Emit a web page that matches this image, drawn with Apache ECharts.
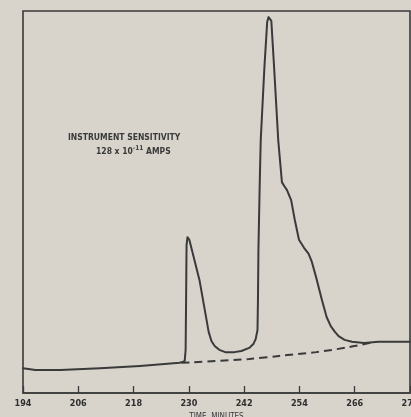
<!DOCTYPE html>
<html>
<head>
<meta charset="utf-8">
<script src="https://cdn.jsdelivr.net/npm/echarts@6/dist/echarts.min.js"></script>
<style>
  html, body { margin: 0; padding: 0; background: #d8d4cc; }
  #chart { width: 411px; height: 417px; }
</style>
</head>
<body>
<div id="chart"></div>
<script>
// Detector trace (time in minutes, signal in relative units of full scale)
const traceTime = [194.0, 196.7, 202.1, 210.7, 219.4, 228.0, 228.6, 229.1, 229.3, 229.4,
  229.5, 229.7, 230.1, 232.3, 234.3, 234.9, 235.6, 236.6, 237.9, 239.9,
  241.4, 243.1, 244.0, 244.5, 244.9, 245.0, 245.1, 245.4, 245.6, 246.4,
  247.0, 247.3, 247.6, 247.9, 248.5, 249.4, 250.2, 250.7, 251.3, 252.2,
  253.0, 253.9, 255.0, 256.0, 256.7, 257.6, 258.9, 259.9, 260.8, 261.7,
  262.5, 263.8, 265.4, 268.0, 271.2, 278.0];
const traceSignal = [6.5, 6.0, 6.0, 6.5, 7.1, 7.9, 8.1, 8.4, 11.3, 24.3,
  38.7, 40.8, 40.1, 29.6, 16.0, 13.6, 12.3, 11.3, 10.7, 10.7,
  11.0, 11.8, 12.8, 14.1, 16.5, 24.3, 37.4, 55.8, 66.2, 85.3,
  97.1, 98.4, 98.7, 97.4, 85.3, 66.2, 55.2, 54.2, 53.1, 50.5,
  45.3, 40.1, 38.0, 36.4, 34.3, 30.4, 24.3, 19.9, 17.5, 16.0,
  14.9, 13.9, 13.4, 13.1, 13.4, 13.4];

// Drifting baseline drawn under the peaks
const baseTime = [228.4, 243.1, 249.6, 257.6, 264.7, 270.5];
const baseSignal = [7.9, 8.9, 9.7, 10.7, 12.0, 13.4];

// Time axis ticks
const tickMinutes = [194, 206, 218, 230, 242, 254, 266, 278];

const pairs = (xs, ys) => xs.map((x, i) => [x, ys[i]]);

const ink = '#3a3a3a';
const labelFont = '"DejaVu Sans Condensed", "Liberation Sans Narrow", "Liberation Sans", sans-serif';

const chart = echarts.init(document.getElementById('chart'), null, { renderer: 'canvas' });
chart.setOption({
  backgroundColor: '#d8d4cc',
  animation: false,
  grid: {
    left: 23, right: 1, top: 11, bottom: 24,
    containLabel: false,
    outerBoundsMode: 'none',
    show: true, borderColor: ink, borderWidth: 1.6, backgroundColor: 'transparent'
  },
  xAxis: {
    type: 'value',
    min: tickMinutes[0],
    max: tickMinutes[tickMinutes.length - 1],
    name: 'TIME, MINUTES',
    nameLocation: 'middle',
    nameGap: 15,
    nameTextStyle: { color: '#3a3a3a', fontSize: 8, fontFamily: labelFont },
    splitLine: { show: false },
    axisLine: { show: true, lineStyle: { color: ink, width: 1.6 } },
    axisTick: {
      show: true, inside: true, length: 7,
      customValues: tickMinutes,
      lineStyle: { color: ink, width: 1.3 }
    },
    axisLabel: {
      show: true, margin: 6,
      customValues: tickMinutes,
      color: '#2e2e2e', fontSize: 9, fontWeight: 'bold', fontFamily: labelFont,
      showMinLabel: true, showMaxLabel: true
    }
  },
  yAxis: {
    type: 'value', min: 0, max: 100,
    show: false,
    splitLine: { show: false }
  },
  graphic: [
    {
      type: 'text', left: 68, top: 133,
      style: {
        text: 'INSTRUMENT SENSITIVITY',
        fill: '#3a3a3a', font: 'bold 8.5px ' + labelFont
      }
    },
    {
      type: 'text', left: 96, top: 145,
      style: {
        text: '{n|128 x 10}{s|-11}{n| AMPS}',
        rich: {
          n: { fill: '#3a3a3a', font: 'bold 8.5px ' + labelFont, padding: [6, 0, 0, 0] },
          s: { fill: '#3a3a3a', font: 'bold 6.5px ' + labelFont, padding: [0, 0, 0, 0] }
        }
      }
    }
  ],
  series: [
    {
      type: 'line',
      data: pairs(traceTime, traceSignal),
      showSymbol: false,
      smooth: false,
      lineStyle: { color: ink, width: 2, join: 'round', cap: 'round' },
      z: 3
    },
    {
      type: 'line',
      data: pairs(baseTime, baseSignal),
      showSymbol: false,
      smooth: 0.3,
      lineStyle: { color: ink, width: 2, type: [8, 5] },
      z: 2
    }
  ]
});
</script>
</body>
</html>
